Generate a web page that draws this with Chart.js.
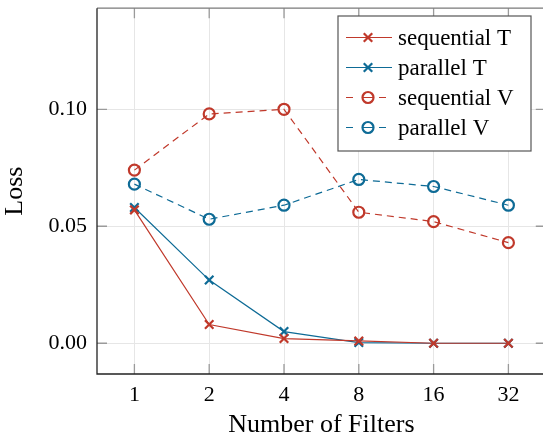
<!DOCTYPE html>
<html><head><meta charset="utf-8">
<script src="https://cdn.jsdelivr.net/npm/chart.js@4"></script>
<style>html,body{margin:0;padding:0;overflow:hidden;background:#fff}#wrap{width:554px;height:441px}</style>
</head><body><div id="wrap"><canvas id="c" width="554" height="441"></canvas></div>
<script>
const categories = ['1', '2', '4', '8', '16', '32'];
const seqT = [0.057, 0.008, 0.002, 0.001, 0.0, 0.0];
const parT = [0.058, 0.027, 0.005, 0.0003, 0.0, 0.0];
const seqV = [0.074, 0.098, 0.100, 0.056, 0.052, 0.043];
const parV = [0.068, 0.053, 0.059, 0.070, 0.067, 0.059];
const yTicks = [0.00, 0.05, 0.10];
const seriesNames = ['sequential T', 'parallel T', 'sequential V', 'parallel V'];

const RED = '#c0392b', BLUE = '#0e6b96';
const FONT = "'Liberation Serif', 'DejaVu Serif', serif";

function ds(label, data, color, dashed) {
  return {
    label, data,
    borderColor: color, backgroundColor: 'rgba(0,0,0,0)',
    borderWidth: 1.2,
    borderDash: dashed ? [7, 5] : [],
    pointStyle: dashed ? 'circle' : 'crossRot',
    pointRadius: dashed ? 5.5 : 6,
    pointBorderWidth: 2.2,
    pointBorderColor: color,
    pointBackgroundColor: 'rgba(0,0,0,0)',
    tension: 0, fill: false
  };
}

function zeroPad(s) { s.paddingTop = 0; s.paddingBottom = 0; s.paddingLeft = 0; s.paddingRight = 0; }

const framePlugin = {
  id: 'frame',
  afterDatasetsDraw(chart) {
    const {ctx, chartArea: a, scales: {x, y}} = chart;
    ctx.save();
    ctx.strokeStyle = '#9a9a9a';
    ctx.lineWidth = 1.3;
    const tl = 10;
    ctx.beginPath();
    for (let i = 0; i < categories.length; i++) {
      const px = x.getPixelForValue(i);
      ctx.moveTo(px, a.bottom); ctx.lineTo(px, a.bottom - tl);
      ctx.moveTo(px, a.top); ctx.lineTo(px, a.top + tl);
    }
    for (const v of yTicks) {
      const py = y.getPixelForValue(v);
      ctx.moveTo(a.left, py); ctx.lineTo(a.left + tl, py);
      ctx.moveTo(a.right, py); ctx.lineTo(a.right - tl, py);
    }
    ctx.stroke();
    ctx.lineWidth = 1.3;
    ctx.strokeStyle = '#7a7a7a';
    ctx.beginPath();
    ctx.moveTo(a.left, a.top); ctx.lineTo(a.right, a.top); ctx.lineTo(a.right, a.bottom);
    ctx.stroke();
    ctx.strokeStyle = '#222';
    ctx.beginPath();
    ctx.moveTo(a.left, a.top); ctx.lineTo(a.left, a.bottom); ctx.lineTo(a.right, a.bottom);
    ctx.stroke();

    const bx = 338, by = 16, bw = 193, bh = 135;
    ctx.fillStyle = '#fff';
    ctx.fillRect(bx, by, bw, bh);
    ctx.strokeStyle = '#555';
    ctx.lineWidth = 1.2;
    ctx.strokeRect(bx, by, bw, bh);
    chart.data.datasets.forEach((d, i) => {
      const ry = 37.5 + i * 30;
      const mx = 368;
      ctx.strokeStyle = d.borderColor;
      ctx.lineWidth = d.borderWidth;
      ctx.setLineDash([]);
      ctx.beginPath();
      if (d.borderDash.length) {
        ctx.moveTo(346, ry); ctx.lineTo(353, ry);
        ctx.moveTo(362, ry); ctx.lineTo(374, ry);
        ctx.moveTo(379, ry); ctx.lineTo(386, ry);
      } else {
        ctx.moveTo(346, ry); ctx.lineTo(392, ry);
      }
      ctx.stroke();
      ctx.lineWidth = d.pointBorderWidth;
      ctx.fillStyle = 'rgba(0,0,0,0)';
      Chart.helpers.drawPoint(ctx, {pointStyle: d.pointStyle, radius: d.pointRadius, borderWidth: d.pointBorderWidth, rotation: 0}, mx, ry);
      ctx.fillStyle = '#000';
      ctx.font = "23px " + FONT;
      ctx.textBaseline = 'middle';
      ctx.textAlign = 'left';
      ctx.fillText(seriesNames[i], 398, ry + 1);
    });
    ctx.restore();
  }
};

new Chart(document.getElementById('c'), {
  type: 'line',
  data: {
    labels: categories,
    datasets: [
      ds(seriesNames[0], seqT, RED, false),
      ds(seriesNames[1], parT, BLUE, false),
      ds(seriesNames[2], seqV, RED, true),
      ds(seriesNames[3], parV, BLUE, true)
    ]
  },
  options: {
    responsive: false,
    animation: false,
    layout: {padding: {top: 5, right: 2, left: 0, bottom: 0}},
    plugins: {legend: {display: false}, tooltip: {enabled: false}},
    scales: {
      x: {
        type: 'category',
        offset: true,
        grid: {color: '#e6e6e6', lineWidth: 1, drawTicks: false},
        border: {display: false},
        ticks: {color: '#000', font: {family: FONT, size: 22}, padding: 8, maxRotation: 0},
        title: {display: true, text: 'Number of Filters', color: '#000', font: {family: FONT, size: 26}, padding: {top: 0, bottom: 0}},
        afterFit(s) { s.height = 67; zeroPad(s); }
      },
      y: {
        min: -0.01314, max: 0.1432,
        grid: {color: '#e6e6e6', lineWidth: 1, drawTicks: false},
        border: {display: false},
        afterBuildTicks(s) { s.ticks = yTicks.map(v => ({value: v})); },
        ticks: {color: '#000', font: {family: FONT, size: 22}, padding: 10, callback: v => Number(v).toFixed(2)},
        title: {display: true, text: 'Loss', color: '#000', font: {family: FONT, size: 26}, padding: {top: 0, bottom: 0}},
        afterFit(s) { s.width = 97; zeroPad(s); }
      }
    }
  },
  plugins: [framePlugin]
});
</script>
</body></html>
